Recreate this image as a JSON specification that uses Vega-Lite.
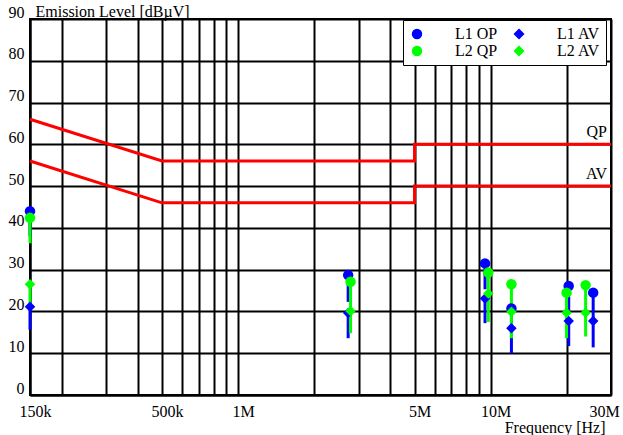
{
  "$schema": "https://vega.github.io/schema/vega-lite/v6.json",
  "width": 581,
  "height": 376,
  "autosize": {"type": "none"},
  "padding": {"left": 30, "top": 19, "right": 12, "bottom": 40},
  "background": "white",
  "config": {
    "font": "'Liberation Serif', 'Times New Roman', 'DejaVu Serif', serif",
    "view": {"stroke": "black", "strokeWidth": 2}
  },
  "datasets": {
    "lim": [
      {"f": 150000, "v": 66, "lim": "QP", "i": 0},
      {"f": 500000, "v": 56, "lim": "QP", "i": 1},
      {"f": 5000000, "v": 56, "lim": "QP", "i": 2},
      {"f": 5000000, "v": 60, "lim": "QP", "i": 3},
      {"f": 30000000, "v": 60, "lim": "QP", "i": 4},
      {"f": 150000, "v": 56, "lim": "AV", "i": 0},
      {"f": 500000, "v": 46, "lim": "AV", "i": 1},
      {"f": 5000000, "v": 46, "lim": "AV", "i": 2},
      {"f": 5000000, "v": 50, "lim": "AV", "i": 3},
      {"f": 30000000, "v": 50, "lim": "AV", "i": 4}
    ],
    "lbl": [
      {"f": 30000000, "v": 60, "t": "QP"},
      {"f": 30000000, "v": 50, "t": "AV"}
    ],
    "pts": [
      {"f": 150000, "v": 44.0, "lo": 38.0, "s": "L1 OP"},
      {"f": 2730000, "v": 28.7, "lo": 22.3, "s": "L1 OP"},
      {"f": 9510000, "v": 31.5, "lo": 25.3, "s": "L1 OP"},
      {"f": 12100000, "v": 20.7, "lo": 14.7, "s": "L1 OP"},
      {"f": 20400000, "v": 26.1, "lo": 20.0, "s": "L1 OP"},
      {"f": 25500000, "v": 24.5, "lo": 18.0, "s": "L1 OP"},
      {"f": 150000, "v": 42.4, "lo": 36.3, "s": "L2 QP"},
      {"f": 2790000, "v": 27.1, "lo": 20.3, "s": "L2 QP"},
      {"f": 9800000, "v": 29.3, "lo": 23.3, "s": "L2 QP"},
      {"f": 12100000, "v": 26.5, "lo": 20.0, "s": "L2 QP"},
      {"f": 20000000, "v": 24.5, "lo": 18.5, "s": "L2 QP"},
      {"f": 23800000, "v": 26.3, "lo": 19.8, "s": "L2 QP"},
      {"f": 150000, "v": 21.1, "lo": 15.6, "s": "L1 AV"},
      {"f": 2730000, "v": 19.6, "lo": 13.6, "s": "L1 AV"},
      {"f": 9510000, "v": 23.1, "lo": 17.2, "s": "L1 AV"},
      {"f": 12100000, "v": 16.0, "lo": 10.0, "s": "L1 AV"},
      {"f": 20400000, "v": 17.7, "lo": 11.7, "s": "L1 AV"},
      {"f": 25500000, "v": 17.7, "lo": 11.4, "s": "L1 AV"},
      {"f": 150000, "v": 26.5, "lo": 20.8, "s": "L2 AV"},
      {"f": 2790000, "v": 20.1, "lo": 14.8, "s": "L2 AV"},
      {"f": 9800000, "v": 24.3, "lo": 17.5, "s": "L2 AV"},
      {"f": 12100000, "v": 19.9, "lo": 13.6, "s": "L2 AV"},
      {"f": 20000000, "v": 19.7, "lo": 13.6, "s": "L2 AV"},
      {"f": 23800000, "v": 19.7, "lo": 14.0, "s": "L2 AV"}
    ]
  },
  "encoding": {
    "x": {
      "field": "f",
      "type": "quantitative",
      "scale": {"type": "log", "domain": [150000, 30000000], "nice": false},
      "axis": {
        "values": [150000, 200000, 300000, 400000, 500000, 600000, 700000, 800000, 900000, 1000000, 2000000, 3000000, 4000000, 5000000, 6000000, 7000000, 8000000, 9000000, 10000000, 20000000, 30000000],
        "labelExpr": "datum.value == 150000 ? '150k' : datum.value == 500000 ? '500k' : datum.value == 1000000 ? '1M' : datum.value == 5000000 ? '5M' : datum.value == 10000000 ? '10M' : datum.value == 30000000 ? '30M' : ''",
        "title": "Frequency [Hz]",
        "grid": true,
        "gridColor": "black",
        "gridWidth": 2,
        "gridOpacity": 1,
        "ticks": false,
        "domain": true,
        "domainColor": "black",
        "domainWidth": 2,
        "labelFontSize": 16,
        "labelColor": "black",
        "labelPadding": 8,
        "labelFlush": false,
        "labelOverlap": false,
        "labelBound": false,
        "labelOffset": {"condition": {"test": "datum.value >= 30000000", "value": -7}, "value": 5},
        "titleFontSize": 16,
        "titleFontWeight": "normal",
        "titleColor": "black",
        "titleAnchor": "end",
        "titleAlign": "right",
        "titleX": 575,
        "titleY": 37,
        "titleBaseline": "alphabetic"
      }
    },
    "y": {
      "field": "v",
      "type": "quantitative",
      "scale": {"domain": [0, 90], "nice": false},
      "axis": {
        "values": [0, 10, 20, 30, 40, 50, 60, 70, 80, 90],
        "title": "Emission Level [dBµV]",
        "grid": true,
        "gridColor": "black",
        "gridWidth": 2,
        "gridOpacity": 1,
        "ticks": false,
        "domain": true,
        "domainColor": "black",
        "domainWidth": 2,
        "labelFontSize": 16,
        "labelColor": "black",
        "labelPadding": 6,
        "labelBaseline": "alphabetic",
        "labelOffset": -2,
        "labelFlush": false,
        "labelOverlap": false,
        "titleFontSize": 16,
        "titleFontWeight": "normal",
        "titleColor": "black",
        "titleAngle": 0,
        "titleAlign": "left",
        "titleBaseline": "alphabetic",
        "titleX": 5,
        "titleY": -2.3
      }
    }
  },
  "layer": [
    {
      "data": {"name": "lim"},
      "mark": {"type": "line", "color": "#ff0000", "strokeWidth": 3},
      "encoding": {
        "detail": {"field": "lim", "type": "nominal"},
        "order": {"field": "i", "type": "quantitative"}
      }
    },
    {
      "data": {"name": "lbl"},
      "mark": {"type": "text", "align": "right", "baseline": "alphabetic", "dx": -4, "dy": -7, "fontSize": 16, "color": "black"},
      "encoding": {"text": {"field": "t", "type": "nominal"}}
    },
    {
      "data": {"name": "pts"},
      "mark": {"type": "rule", "strokeWidth": 3},
      "encoding": {
        "y2": {"field": "lo"},
        "color": {
          "field": "s",
          "type": "nominal",
          "scale": {"domain": ["L1 OP", "L2 QP", "L1 AV", "L2 AV"], "range": ["#0000ff", "#00ff00", "#0000ff", "#00ff00"]}
        }
      }
    },
    {
      "data": {"name": "pts"},
      "mark": {"type": "point", "filled": true, "size": 110, "opacity": 1, "strokeWidth": 0},
      "encoding": {
        "color": {
          "field": "s",
          "type": "nominal",
          "scale": {"domain": ["L1 OP", "L2 QP", "L1 AV", "L2 AV"], "range": ["#0000ff", "#00ff00", "#0000ff", "#00ff00"]},
          "legend": {
            "title": null,
            "orient": "none",
            "legendX": 373,
            "legendY": 1,
            "columns": 2,
            "columnPadding": 13,
            "rowPadding": 1,
            "padding": 6,
            "fillColor": "white",
            "strokeColor": "black",
            "labelFontSize": 16,
            "labelColor": "black",
            "labelOffset": 30,
            "symbolSize": 80,
            "symbolOpacity": 1,
            "labelLimit": 200
          }
        },
        "shape": {
          "field": "s",
          "type": "nominal",
          "scale": {"domain": ["L1 OP", "L2 QP", "L1 AV", "L2 AV"], "range": ["circle", "circle", "diamond", "diamond"]},
          "legend": {
            "title": null,
            "orient": "none",
            "legendX": 373,
            "legendY": 1,
            "columns": 2,
            "columnPadding": 13,
            "rowPadding": 1,
            "padding": 6,
            "fillColor": "white",
            "strokeColor": "black",
            "labelFontSize": 16,
            "labelColor": "black",
            "labelOffset": 30,
            "symbolSize": 80,
            "symbolOpacity": 1,
            "labelLimit": 200
          }
        }
      }
    }
  ]
}
